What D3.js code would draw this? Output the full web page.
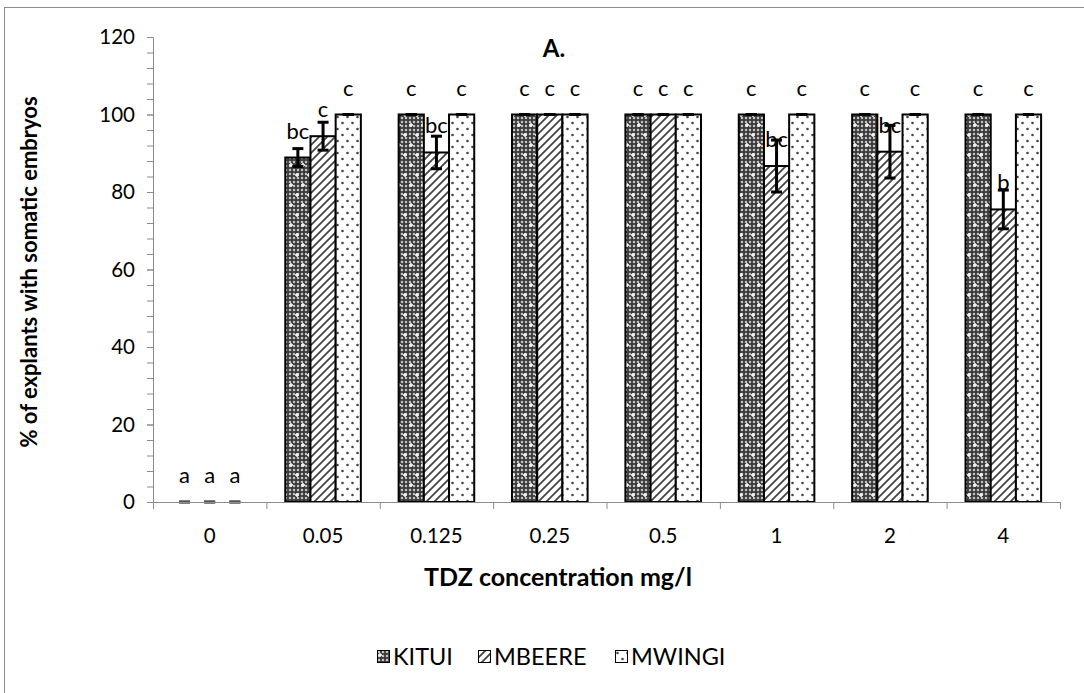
<!DOCTYPE html>
<html>
<head>
<meta charset="utf-8">
<script src="https://cdn.jsdelivr.net/npm/d3@7"></script>
<style>
  html, body { margin: 0; padding: 0; background: #fff; }
  svg { display: block; font-family: Lato, "Open Sans", sans-serif; }
</style>
</head>
<body>
<svg id="chart" width="1084" height="693"></svg>
<script>
// TDZ concentrations (mg/l)
const categories = ["0", "0.05", "0.125", "0.25", "0.5", "1", "2", "4"];
const seriesNames = ["KITUI", "MBEERE", "MWINGI"];

// % of explants with somatic embryos
const kitui  = [0, 88.9, 100, 100, 100, 100, 100, 100];
const mbeere = [0, 94.4, 90.2, 100, 100, 86.7, 90.4, 75.5];
const mwingi = [0, 100, 100, 100, 100, 100, 100, 100];

// standard errors
const kituiErr  = [0, 2.3, 0, 0, 0, 0, 0, 0];
const mbeereErr = [0, 3.6, 4.2, 0, 0, 6.7, 6.8, 5.0];
const mwingiErr = [0, 0, 0, 0, 0, 0, 0, 0];

// mean separation letters
const kituiLetters  = ["a", "bc", "c", "c", "c", "c", "c", "c"];
const mbeereLetters = ["a", "c", "bc", "c", "c", "bc", "bc", "b"];
const mwingiLetters = ["a", "c", "c", "c", "c", "c", "c", "c"];

const yTicks = [0, 20, 40, 60, 80, 100, 120];

const values  = [kitui, mbeere, mwingi];
const errors  = [kituiErr, mbeereErr, mwingiErr];
const letters = [kituiLetters, mbeereLetters, mwingiLetters];

const svg = d3.select("#chart");
const plotLeft = 153, plotRight = 1060, plotTop = 37, plotBottom = 502;

// outer chart frame
svg.append("rect")
  .attr("x", 4.5).attr("y", 7.5)
  .attr("width", 1200).attr("height", 800)
  .attr("fill", "none").attr("stroke", "#8c8c8c").attr("stroke-width", 1);

// fill patterns
const defs = svg.append("defs");

const grid = defs.append("pattern").attr("id", "kitui-grid")
  .attr("patternUnits", "userSpaceOnUse").attr("width", 4).attr("height", 4);
grid.append("rect").attr("width", 4).attr("height", 4).attr("fill", "#3a3a3a");
grid.append("circle").attr("cx", 2).attr("cy", 2).attr("r", 1.25).attr("fill", "#c4c4c4");

const kp = defs.append("pattern").attr("id", "pat-KITUI")
  .attr("patternUnits", "userSpaceOnUse").attr("width", 12).attr("height", 20);
kp.append("rect").attr("width", 12).attr("height", 20).attr("fill", "url(#kitui-grid)");
[[3, 5], [9, 15]].forEach(([cx, cy]) => {
  kp.append("path")
    .attr("d", `M${cx - 2},${cy} H${cx + 2} M${cx},${cy - 2} V${cy + 2}`)
    .attr("stroke", "#fff").attr("stroke-width", 1.4);
});

const mp = defs.append("pattern").attr("id", "pat-MBEERE")
  .attr("patternUnits", "userSpaceOnUse").attr("width", 8).attr("height", 8);
mp.append("rect").attr("width", 8).attr("height", 8).attr("fill", "#fff");
mp.append("path")
  .attr("d", "M-1,9 L9,-1 M-3,3 L3,-3 M5,11 L11,5")
  .attr("stroke", "#444").attr("stroke-width", 1.8);

const wp = defs.append("pattern").attr("id", "pat-MWINGI")
  .attr("patternUnits", "userSpaceOnUse").attr("width", 10).attr("height", 12);
wp.append("rect").attr("width", 10).attr("height", 12).attr("fill", "#fff");
wp.append("circle").attr("cx", 2.5).attr("cy", 3).attr("r", 1.3).attr("fill", "#444");
wp.append("circle").attr("cx", 7.5).attr("cy", 9).attr("r", 1.3).attr("fill", "#444");

// scales
const x0 = d3.scaleBand().domain(categories).range([plotLeft, plotRight]).paddingInner(0).paddingOuter(0);
const x1 = d3.scaleBand().domain(seriesNames).range([0, x0.bandwidth()]).paddingInner(0).paddingOuter(0.75);
const y = d3.scaleLinear().domain([0, 120]).range([plotBottom, plotTop]);

// flattened records
const records = [];
seriesNames.forEach((s, si) => {
  categories.forEach((c, ci) => {
    records.push({ series: s, cat: c, value: values[si][ci], err: errors[si][ci], letter: letters[si][ci] });
  });
});

// bars
svg.append("g").selectAll("rect")
  .data(records.filter(d => d.value > 0))
  .join("rect")
  .attr("x", d => x0(d.cat) + x1(d.series))
  .attr("y", d => y(d.value))
  .attr("width", x1.bandwidth())
  .attr("height", d => y(0) - y(d.value))
  .attr("fill", d => `url(#pat-${d.series})`)
  .attr("stroke", "#000").attr("stroke-width", 2);

// error bars
const eb = svg.append("g").selectAll("g").data(records).join("g")
  .attr("transform", d => `translate(${x0(d.cat) + x1(d.series) + x1.bandwidth() / 2},0)`);
eb.append("line")
  .attr("y1", d => y(d.value + d.err)).attr("y2", d => y(d.value - d.err))
  .attr("stroke", "#000").attr("stroke-width", 3);
eb.append("line")
  .attr("x1", -5.5).attr("x2", 5.5)
  .attr("y1", d => y(d.value + d.err)).attr("y2", d => y(d.value + d.err))
  .attr("stroke", d => d.value > 0 ? "#000" : "#555").attr("stroke-width", 3);
eb.append("line")
  .attr("x1", -5.5).attr("x2", 5.5)
  .attr("y1", d => y(d.value - d.err)).attr("y2", d => y(d.value - d.err))
  .attr("stroke", d => d.value > 0 ? "#000" : "#555").attr("stroke-width", 3);

// y axis with minor ticks every 4 units
const yAxis = svg.append("g").attr("transform", `translate(${plotLeft},0)`);
yAxis.append("g")
  .call(d3.axisLeft(y).tickValues(d3.range(0, 121, 4)).tickSize(6).tickFormat(""))
  .call(g => g.select(".domain").remove())
  .call(g => g.selectAll("line").attr("stroke", "#8c8c8c"));
yAxis.append("g")
  .call(d3.axisLeft(y).tickValues(yTicks).tickSize(6).tickPadding(12))
  .call(g => g.select(".domain").attr("stroke", "#8c8c8c").attr("d", `M-6,${plotTop + 0.5}H0.5V${plotBottom}`))
  .call(g => g.selectAll("line").attr("stroke", "#8c8c8c"))
  .call(g => g.selectAll("text").attr("font-size", 20.5).attr("fill", "#000").attr("font-family", "Lato"));

// x axis with ticks at category boundaries
const xAxis = svg.append("g").attr("transform", `translate(0,${plotBottom})`);
xAxis.append("line")
  .attr("x1", plotLeft).attr("x2", plotRight).attr("y1", 0.5).attr("y2", 0.5)
  .attr("stroke", "#8c8c8c");
xAxis.selectAll(".bt").data(categories.concat(["end"])).join("line")
  .attr("class", "bt")
  .attr("x1", (d, i) => plotLeft + i * x0.step() + 0.5)
  .attr("x2", (d, i) => plotLeft + i * x0.step() + 0.5)
  .attr("y1", 0).attr("y2", 7)
  .attr("stroke", "#8c8c8c");
xAxis.selectAll(".lbl").data(categories).join("text")
  .attr("class", "lbl")
  .attr("x", d => x0(d) + x0.bandwidth() / 2)
  .attr("y", 41)
  .attr("text-anchor", "middle")
  .attr("font-size", 20.5)
  .text(d => d);

// significance letters
svg.append("g").selectAll("text").data(records).join("text")
  .attr("x", d => x0(d.cat) + x1(d.series) + x1.bandwidth() / 2)
  .attr("y", d => y(d.value) - 19)
  .attr("text-anchor", "middle")
  .attr("font-size", 22)
  .text(d => d.letter);

// titles
svg.append("text").attr("x", 554).attr("y", 57).attr("text-anchor", "middle")
  .attr("font-size", 24).attr("font-weight", "bold").text("A.");
svg.append("text").attr("x", 558).attr("y", 586).attr("text-anchor", "middle")
  .attr("font-size", 25).attr("font-weight", "bold").text("TDZ concentration mg/l");
svg.append("text")
  .attr("transform", `translate(37,272) rotate(-90)`)
  .attr("text-anchor", "middle")
  .attr("font-size", 22).attr("font-weight", "bold")
  .text("% of explants with somatic embryos");

// legend
const legendX = [377, 478, 615];
const lg = svg.append("g").selectAll("g").data(seriesNames).join("g")
  .attr("transform", (d, i) => `translate(${legendX[i]},650)`);
lg.append("rect").attr("x", 0.5).attr("y", 0.5).attr("width", 12).attr("height", 12)
  .attr("fill", d => `url(#pat-${d})`).attr("stroke", "#000").attr("stroke-width", 1);
lg.append("text").attr("x", 16).attr("y", 15).attr("font-size", 23.5).text(d => d);
</script>
</body>
</html>
